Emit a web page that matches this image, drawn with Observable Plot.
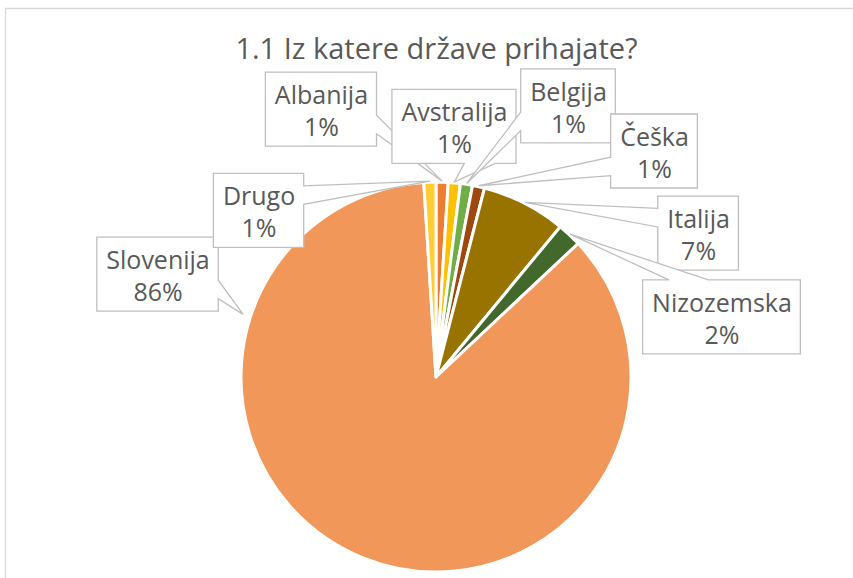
<!DOCTYPE html>
<html>
<head>
<meta charset="utf-8">
<script src="https://cdn.jsdelivr.net/npm/d3@7"></script>
<script src="https://cdn.jsdelivr.net/npm/@observablehq/plot@0.6"></script>
<style>
  html, body { margin: 0; padding: 0; background: #fff; }
  #chart svg { display: block; }
</style>
</head>
<body>
<div id="chart"></div>
<script>
// ---- data ----
const countries = ["Albanija", "Avstralija", "Belgija", "Češka", "Italija", "Nizozemska", "Slovenija", "Drugo"];
const shares    = [1, 1, 1, 1, 7, 2, 86, 1];            // percent of respondents
const colors    = ["#ED7D31", "#FFC000", "#70AD47", "#9E480E", "#997300", "#43682B", "#F1975A", "#FFCD33"];
const title     = "1.1 Iz katere države prihajate?";

// ---- layout (pie-radius units, origin at pie centre, y pointing up) ----
const W = 853, H = 578, CX = 436, CY = 377, R = 195;
const labelCentres = [
  [-0.590, 1.374], [0.092, 1.285], [0.677, 1.390], [1.118, 1.159],
  [1.344, 0.738], [1.464, 0.308], [-1.428, 0.528], [-0.910, 0.854]
];
const tipOverride = { "Slovenija": { angle: 288, r: 1.04 } };
const titleY = (CY - 49) / R;

const FONT = "'Open Sans', 'Noto Sans', sans-serif";
const LABEL_SIZE = 25, TITLE_SIZE = 29, TEXT_COLOR = "#595959";

// ---- derived ----
const table = countries.map((c, i) => ({ country: c, value: shares[i] }));
const total = d3.sum(shares);
const arcs = d3.pie().sort(null).value(d => d.value)(table);

const ctx = document.createElement("canvas").getContext("2d");
ctx.font = `${LABEL_SIZE}px ${FONT}`;

const labels = arcs.map((a, i) => {
  const c = a.data.country;
  const pct = Math.round(a.data.value / total * 100) + "%";
  const ov = tipOverride[c];
  const ang = ov ? ov.angle * Math.PI / 180 : (a.startAngle + a.endAngle) / 2;
  const tr = ov ? ov.r : 1.005;
  const w = Math.max(ctx.measureText(c).width, ctx.measureText(pct).width) + 18;
  return {
    country: c, pct, text: c + "\n" + pct,
    ux: labelCentres[i][0], uy: labelCentres[i][1],
    tx: tr * Math.sin(ang), ty: tr * Math.cos(ang),
    w, h: 74
  };
});

function calloutPath(x0, y0, w, h, tx, ty) {
  const cx = x0 + w / 2, cy = y0 + h / 2;
  const dxPos = tx - cx, dyPos = ty - cy;
  const dx = dxPos * h, dy = dyPos * w;
  const inside = Math.abs(dxPos) <= w / 2 && Math.abs(dyPos) <= h / 2;
  const x1 = x0 + w * (dxPos > 0 ? 7 : 2) / 12, x2 = x0 + w * (dxPos > 0 ? 10 : 5) / 12;
  const y1 = y0 + h * (dyPos > 0 ? 7 : 2) / 12, y2 = y0 + h * (dyPos > 0 ? 10 : 5) / 12;
  const r = x0 + w, b = y0 + h;
  const horiz = Math.abs(dx) > Math.abs(dy);
  let p = `M${x0},${y0}`;
  if (!inside && !horiz && dyPos < 0) p += `L${x1},${y0}L${tx},${ty}L${x2},${y0}`;
  p += `L${r},${y0}`;
  if (!inside && horiz && dxPos > 0) p += `L${r},${y1}L${tx},${ty}L${r},${y2}`;
  p += `L${r},${b}`;
  if (!inside && !horiz && dyPos > 0) p += `L${x2},${b}L${tx},${ty}L${x1},${b}`;
  p += `L${x0},${b}`;
  if (!inside && horiz && dxPos < 0) p += `L${x0},${y2}L${tx},${ty}L${x0},${y1}`;
  return p + "Z";
}

// ---- custom marks ----
function frameMark(index, scales, values, dims) {
  const g = d3.create("svg:g");
  g.append("path")
    .attr("d", `M5.5,${dims.height}V8.5H${dims.width}`)
    .attr("fill", "none").attr("stroke", "#d9d9d9").attr("stroke-width", 1.3);
  return g.node();
}

function slicesMark(index, scales) {
  const { x, y } = scales;
  const color = scales.color || d3.scaleOrdinal(countries, colors);
  const cx = x(0), cy = y(0), r = x(1) - x(0);
  const arc = d3.arc().innerRadius(0).outerRadius(r);
  const g = d3.create("svg:g").attr("transform", `translate(${cx},${cy})`);
  g.selectAll("path").data(arcs).join("path")
    .attr("d", arc)
    .attr("fill", d => color(d.data.country))
    .attr("stroke", "#fff").attr("stroke-width", 3).attr("stroke-linejoin", "round");
  return g.node();
}

function calloutMark(index, scales) {
  const { x, y } = scales;
  const g = d3.create("svg:g");
  for (const l of labels) {
    const bx = x(l.ux) - l.w / 2, by = y(l.uy) - l.h / 2;
    g.append("path")
      .attr("d", calloutPath(bx, by, l.w, l.h, x(l.tx), y(l.ty)))
      .attr("fill", "#fff").attr("stroke", "#bfbfbf").attr("stroke-width", 1.3)
      .attr("stroke-linejoin", "miter");
  }
  return g.node();
}

const plot = Plot.plot({
  width: W, height: H, margin: 0,
  x: { domain: [-CX / R, (W - CX) / R], range: [0, W], axis: null },
  y: { domain: [-(H - CY) / R, CY / R], range: [H, 0], axis: null },
  color: { domain: countries, range: colors },
  style: { background: "#fff", overflow: "visible", fontFamily: FONT },
  marks: [
    frameMark,
    Plot.dot(table, { x: () => 0, y: () => 0, fill: "country", r: 0 }),
    slicesMark,
    calloutMark,
    Plot.text(labels, {
      x: "ux", y: "uy", text: "text",
      fontSize: LABEL_SIZE, lineHeight: 1.28, fill: TEXT_COLOR, fontFamily: FONT
    }),
    Plot.text([title], {
      x: () => 0, y: () => titleY, text: d => d,
      fontSize: TITLE_SIZE, fill: TEXT_COLOR, fontFamily: FONT
    })
  ]
});
document.getElementById("chart").appendChild(plot);
</script>
</body>
</html>
